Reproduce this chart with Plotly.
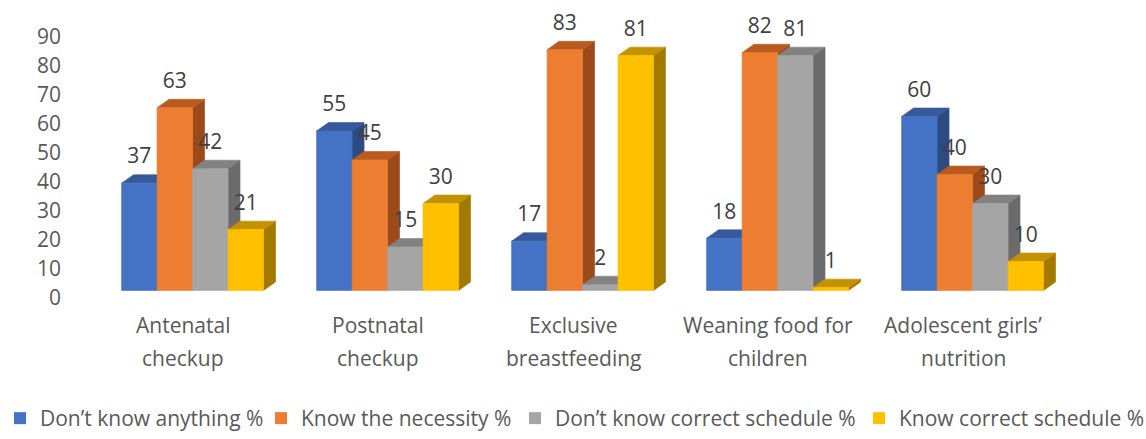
import numpy as np
import plotly.graph_objects as go

categories_line1 = ["Antenatal", "Postnatal", "Exclusive", "Weaning food for", "Adolescent girls’"]
categories_line2 = ["checkup", "checkup", "breastfeeding", "children", "nutrition"]
series_names = ["Don’t know anything %", "Know the necessity %",
                "Don’t know correct schedule %", "Know correct schedule %"]
dont_know_anything = [37, 55, 17, 18, 60]
know_necessity = [63, 45, 83, 82, 40]
dont_know_schedule = [42, 15, 2, 81, 30]
know_schedule = [21, 30, 81, 1, 10]
series_values = [dont_know_anything, know_necessity, dont_know_schedule, know_schedule]
y_ticks = [0, 10, 20, 30, 40, 50, 60, 70, 80, 90]

front_colors = ["#4472C4", "#ED7D31", "#A5A5A5", "#FFC000"]
top_colors = ["#35599A", "#B95B1F", "#828282", "#C29200"]
side_colors = ["#2C4B82", "#9C4A19", "#6B6B6B", "#A37A00"]

FONT = "Open Sans"
W, H = 1146, 439
# geometry (style constants, in axis units)
group_offset = -0.315   # left edge of first bar relative to category position
bar_w = 0.182
depth_x = 0.0615
depth_y = 2.9
base = 2.4              # front floor offset
label_gap = 8.6
Y_MIN, Y_MAX = -4, 96
legend_left_px = [-7, 261, 515, 859]   # left edge of each legend entry (layout)

fig = go.Figure()
cat_pos = np.arange(len(categories_line1), dtype=float)

for s, vals in enumerate(series_values):
    vals = np.asarray(vals, dtype=float)
    xl = cat_pos + group_offset + s * bar_w
    xr = xl + bar_w
    top = base + vals
    sx, sy, tx, ty, fx, fy = [], [], [], [], [], []
    for i in range(len(vals)):
        # side face
        sx += [xr[i], xr[i], xr[i] + depth_x, xr[i] + depth_x, xr[i], None]
        sy += [base, top[i], top[i] + depth_y, base + depth_y, base, None]
        # top face
        tx += [xl[i], xr[i], xr[i] + depth_x, xl[i] + depth_x, xl[i], None]
        ty += [top[i], top[i], top[i] + depth_y, top[i] + depth_y, top[i], None]
        # front face
        fx += [xl[i], xr[i], xr[i], xl[i], xl[i], None]
        fy += [base, base, top[i], top[i], base, None]
    for px, py, col in [(sx, sy, side_colors[s]), (tx, ty, top_colors[s]), (fx, fy, front_colors[s])]:
        fig.add_trace(go.Scatter(x=px, y=py, mode="lines", fill="toself", fillcolor=col,
                                 line=dict(width=0.6, color=col), hoverinfo="skip",
                                 showlegend=False))
    # data labels
    fig.add_trace(go.Scatter(x=(xl + xr) / 2, y=top + label_gap, mode="text",
                             text=[str(int(v)) for v in vals],
                             textfont=dict(family=FONT, size=21, color="#404040"),
                             showlegend=False, hoverinfo="skip", cliponaxis=False))

# legend entries: one legend per series so each can be placed like the original
legend_layouts = {}
for s, name in enumerate(series_names):
    key = "legend" if s == 0 else f"legend{s + 1}"
    fig.add_trace(go.Scatter(x=[None], y=[None], mode="markers", name=name, legend=key,
                             marker=dict(symbol="square", size=12, color=front_colors[s])))
    legend_layouts[key] = dict(orientation="h", x=legend_left_px[s] / W, xanchor="left",
                               xref="container", y=0.0, yanchor="bottom", yref="container",
                               font=dict(family=FONT, size=21, color="#595959"),
                               itemwidth=30, borderwidth=0, bgcolor="rgba(0,0,0,0)")

# category labels (two lines), placed below the axis in paper coordinates
def to_paper(v):
    return (v - Y_MIN) / (Y_MAX - Y_MIN)

for i in range(len(categories_line1)):
    fig.add_annotation(x=cat_pos[i], y=to_paper(-9.6), xref="x", yref="paper",
                       yanchor="middle", text=categories_line1[i], showarrow=False,
                       font=dict(family=FONT, size=21, color="#595959"))
    fig.add_annotation(x=cat_pos[i], y=to_paper(-21.0), xref="x", yref="paper",
                       yanchor="middle", text=categories_line2[i], showarrow=False,
                       font=dict(family=FONT, size=21, color="#595959"))

fig.update_layout(
    width=W, height=H,
    margin=dict(l=66, r=66, t=19, b=130),
    paper_bgcolor="white", plot_bgcolor="white",
    showlegend=True,
    xaxis=dict(range=[-0.6, 4.6], showgrid=False, zeroline=False, showticklabels=False,
               showline=False, ticks=""),
    yaxis=dict(range=[Y_MIN, Y_MAX], tickvals=y_ticks, showgrid=False, zeroline=False,
               showline=False, ticks="", tickfont=dict(family=FONT, size=21, color="#595959"),
               ticklabelstandoff=4),
    **legend_layouts,
)

fig.write_html("out.html")
